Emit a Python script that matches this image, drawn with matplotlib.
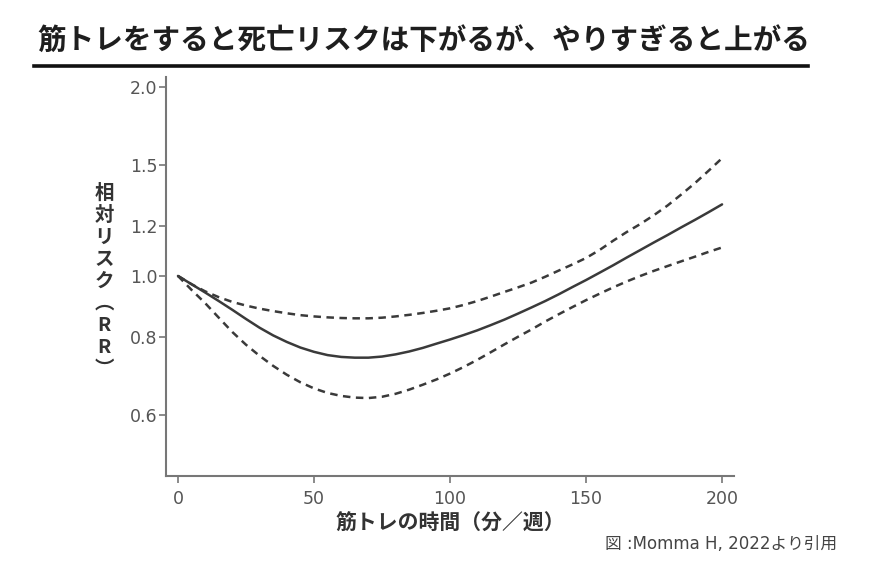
import numpy as np
import matplotlib.pyplot as plt
from matplotlib.ticker import FixedLocator, NullLocator

plt.rcParams['font.family'] = ['Noto Sans CJK JP', 'DejaVu Sans']

# training minutes per week
minutes = list(range(0, 201, 5))
# relative risk
rr = [1.0, 0.970, 0.941, 0.912, 0.883, 0.854, 0.827, 0.804, 0.785, 0.769,
      0.757, 0.748, 0.743, 0.741, 0.741, 0.744, 0.750, 0.758, 0.768, 0.780,
      0.792, 0.805, 0.819, 0.835, 0.852, 0.871, 0.891, 0.912, 0.935, 0.960,
      0.985, 1.012, 1.040, 1.070, 1.100, 1.131, 1.162, 1.195, 1.228, 1.263,
      1.30]
rr_upper = [1.0, 0.970, 0.945, 0.925, 0.909, 0.897, 0.887, 0.879, 0.872, 0.866,
            0.862, 0.859, 0.857, 0.856, 0.856, 0.858, 0.862, 0.867, 0.873, 0.880,
            0.888, 0.899, 0.912, 0.927, 0.943, 0.959, 0.976, 0.997, 1.020, 1.043,
            1.068, 1.100, 1.138, 1.175, 1.210, 1.250, 1.295, 1.348, 1.405, 1.470,
            1.54]
rr_lower = [1.0, 0.950, 0.905, 0.858, 0.814, 0.777, 0.746, 0.719, 0.696, 0.677,
            0.662, 0.651, 0.644, 0.640, 0.639, 0.642, 0.649, 0.659, 0.671, 0.684,
            0.699, 0.716, 0.735, 0.756, 0.778, 0.800, 0.822, 0.846, 0.869, 0.892,
            0.915, 0.937, 0.959, 0.980, 1.000, 1.019, 1.037, 1.055, 1.073, 1.092,
            1.11]

yticks = [0.6, 0.8, 1.0, 1.2, 1.5, 2.0]
xticks = [0, 50, 100, 150, 200]

title = '筋トレをすると死亡リスクは下がるが、やりすぎると上がる'
xlabel = '筋トレの時間（分／週）'
ylabel = '相\n対\nリ\nス\nク\n︵\nR\nR\n︶'
source = '図 :Momma H, 2022より引用'

fig = plt.figure(figsize=(8.7, 5.87), dpi=100)
ax = fig.add_axes([0.1908, 0.189, 0.6529, 0.68])

line_col = '#3a3a3a'
ax.plot(minutes, rr, color=line_col, lw=1.8, solid_capstyle='round')
ax.plot(minutes, rr_upper, color=line_col, lw=1.8, dashes=(3, 2.2))
ax.plot(minutes, rr_lower, color=line_col, lw=1.8, dashes=(3, 2.2))

ax.set_yscale('log')
ax.set_ylim(0.48, 2.075)
ax.set_xlim(-4.4, 204.4)
ax.yaxis.set_major_locator(FixedLocator(yticks))
ax.yaxis.set_minor_locator(NullLocator())
ax.set_yticklabels([f'{v:.1f}' for v in yticks])
ax.set_xticks(xticks)

for s in ['top', 'right']:
    ax.spines[s].set_visible(False)
for s in ['left', 'bottom']:
    ax.spines[s].set_color('#777777')
    ax.spines[s].set_linewidth(1.5)
ax.tick_params(axis='both', colors='#777777', length=5, width=1.2,
               labelcolor='#555555', labelsize=12.5)
ax.tick_params(axis='y', pad=1)
ax.tick_params(axis='x', pad=5)
for lab in ax.get_xticklabels() + ax.get_yticklabels():
    lab.set_family(['DejaVu Sans'])

# title with rule below
fig.text(37 / 870, 1 - 40 / 587, title, fontsize=20.6, fontweight='bold',
         color='#1e1e1e', ha='left', va='center')
fig.add_artist(plt.Line2D([34 / 870, 808 / 870], [1 - 66 / 587, 1 - 66 / 587],
                          color='#111111', lw=2.6))

fig.text(104 / 870, 1 - 281 / 587, ylabel, fontsize=14, fontweight='bold',
         color='#333333', ha='center', va='center', linespacing=1.2)
fig.text(450 / 870, 1 - 523 / 587, xlabel, fontsize=15, fontweight='bold',
         color='#333333', ha='center', va='center')
fig.text(837 / 870, 1 - 544 / 587, source, fontsize=12, color='#444444',
         ha='right', va='center', family=['DejaVu Sans', 'Noto Sans CJK JP'])

fig.savefig('out.png', dpi=100)
